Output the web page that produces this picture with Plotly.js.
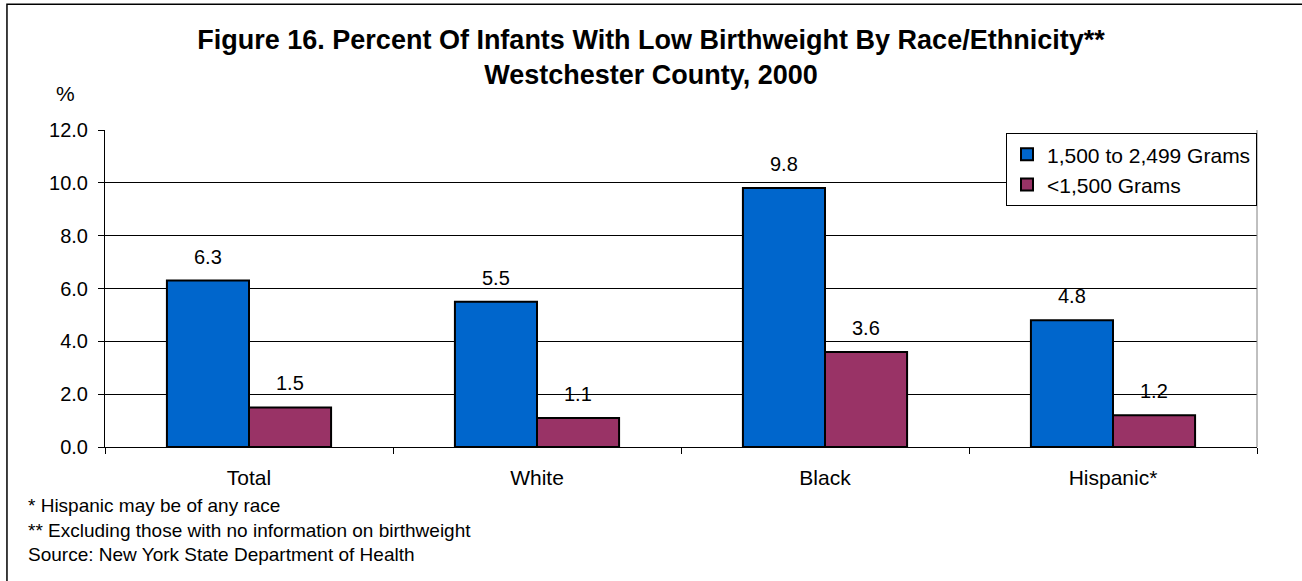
<!DOCTYPE html>
<html>
<head>
<meta charset="utf-8">
<script src="https://cdn.plot.ly/plotly-3.0.1.min.js"></script>
<style>html,body{margin:0;padding:0;background:#fff;}#chart{width:1302px;height:581px;}</style>
</head>
<body>
<div id="chart"></div>
<script>
const categories = ["Total", "White", "Black", "Hispanic*"];
const seriesNames = ["1,500 to 2,499 Grams", "<1,500 Grams"];
const moderateLow = [6.3, 5.5, 9.8, 4.8];
const veryLow = [1.5, 1.1, 3.6, 1.2];
const yTicks = [0, 2, 4, 6, 8, 10, 12];
const footnotes = [
  "* Hispanic may be of any race",
  "** Excluding those with no information on birthweight",
  "Source: New York State Department of Health"
];

const FONT = "Arial, 'Liberation Sans', sans-serif";

const traces = [
  {type: "bar", name: seriesNames[0], x: categories, y: moderateLow,
   marker: {color: "#0066CC", line: {color: "#000", width: 2}}, hoverinfo: "skip"},
  {type: "bar", name: seriesNames[1], x: categories, y: veryLow,
   marker: {color: "#993366", line: {color: "#000", width: 2}}, hoverinfo: "skip"}
];

const annotations = [];
[moderateLow, veryLow].forEach((vals, si) => {
  vals.forEach((v, i) => {
    annotations.push({x: categories[i], y: v, xref: "x", yref: "y", text: v.toFixed(1),
      showarrow: false, xshift: si === 0 ? -41 : 41, yshift: 24, yanchor: "middle",
      font: {family: FONT, size: 20, color: "#000"}});
  });
});
annotations.push({xref: "paper", yref: "paper", x: -0.0345, y: 1.114, text: "%", showarrow: false,
  xanchor: "center", yanchor: "middle", font: {family: FONT, size: 21, color: "#000"}});
const footY = [-0.186, -0.262, -0.338];
footnotes.forEach((t, i) => {
  annotations.push({xref: "paper", yref: "paper", x: -0.0685, y: footY[i], text: t, showarrow: false,
    xanchor: "left", yanchor: "middle", font: {family: FONT, size: 19, color: "#000"}});
});

const layout = {
  width: 1302, height: 581,
  margin: {l: 105, r: 45, t: 130, b: 134},
  paper_bgcolor: "#fff", plot_bgcolor: "#fff",
  font: {family: FONT, color: "#000"},
  title: {text: "<b>Figure 16. Percent Of Infants With Low Birthweight By Race/Ethnicity**<br>Westchester County, 2000</b>",
    x: 0.5, xanchor: "center", y: 1 - 49 / 581, yanchor: "top", yref: "container",
    font: {family: FONT, size: 27, color: "#000"}},
  barmode: "group", bargap: 0.43, bargroupgap: 0,
  showlegend: true,
  legend: {x: 1, xanchor: "right", y: 0.99, yanchor: "top", bgcolor: "#fff",
    bordercolor: "#000", borderwidth: 1, font: {family: FONT, size: 21, color: "#000"},
    traceorder: "normal", itemwidth: 30, tracegroupgap: 0},
  xaxis: {type: "category", showline: true, linecolor: "#000", linewidth: 1,
    ticks: "outside", tickson: "boundaries", ticklen: 6, tickcolor: "#000", ticklabelstandoff: 12,
    tickfont: {family: FONT, size: 21, color: "#000"}, showgrid: false, fixedrange: true},
  yaxis: {range: [0, 12], tickvals: yTicks, tickformat: ".1f", showline: true, linecolor: "#000",
    linewidth: 1, ticks: "outside", ticklen: 6, tickcolor: "#000", showgrid: true, gridcolor: "#000",
    gridwidth: 1, zeroline: false, ticklabelstandoff: 6,
    tickfont: {family: FONT, size: 20, color: "#000"}, fixedrange: true},
  shapes: [
    {type: "line", xref: "paper", yref: "paper", x0: 1, x1: 1, y0: 0, y1: 1, line: {color: "#808080", width: 1}},
    {type: "rect", xref: "paper", yref: "paper", x0: -0.0851, x1: 1.06, y0: -0.45, y1: 1.397,
     line: {color: "#000", width: 1.5}, layer: "below"}
  ],
  annotations: annotations
};

Plotly.newPlot("chart", traces, layout, {displayModeBar: false, staticPlot: true});
</script>
</body>
</html>
